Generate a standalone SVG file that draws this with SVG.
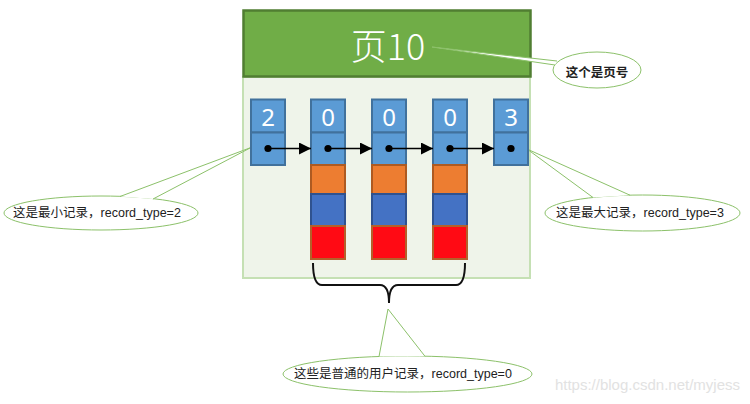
<svg xmlns="http://www.w3.org/2000/svg" width="750" height="404" viewBox="0 0 750 404">
<style>
.cjk{font-family:"Liberation Sans","Noto Sans CJK SC",sans-serif;}
.callout{fill:#ffffff;stroke:#8CC16A;stroke-width:1;}
.ctext{font-size:12.5px;fill:#222;text-anchor:middle;}
.num{font-family:"Noto Sans","Liberation Sans",sans-serif;font-size:24px;fill:#ffffff;text-anchor:middle;}
.c-top{fill:#5B9BD5;stroke:#41719C;stroke-width:2;}
.c-org{fill:#ED7D31;stroke:#AE5A21;stroke-width:2;}
.c-blu{fill:#4472C4;stroke:#2F528F;stroke-width:2;}
.c-red{fill:#FF0A14;stroke:#B4602A;stroke-width:2;}
.dot{fill:#000;}
.arrow{stroke:#000;stroke-width:1.6;fill:none;marker-end:url(#ah);}
</style>
<defs>
<marker id="ah" markerUnits="userSpaceOnUse" markerWidth="13" markerHeight="13" refX="12" refY="6" orient="auto">
<path d="M0,0 L12,6 L0,12 z" fill="#000"/>
</marker>
</defs>
<rect width="750" height="404" fill="#ffffff"/>
<g id="page">
<rect x="243" y="77" width="287" height="201" fill="#EFF4EA" stroke="#C5E0B4" stroke-width="2"/>
<rect x="243.5" y="10.5" width="287" height="66" fill="#70AD47" stroke="#507E32" stroke-width="2.5"/>
<text x="388" y="60" font-family="Noto Sans CJK SC, sans-serif" font-size="36" font-weight="300" fill="#ffffff" text-anchor="middle">页10</text>
</g>
<g id="callouts" class="cjk">
<g id="callout-page-no">
<ellipse class="callout" cx="597" cy="70" rx="44" ry="18"/>
<path class="callout" d="M557,61 L432,47 L555,65"/>
<text class="ctext" x="597" y="77" font-weight="bold">这个是页号</text>
</g>
<g id="callout-min">
<ellipse class="callout" cx="101" cy="213" rx="97" ry="17"/>
<path class="callout" d="M120,196.5 L251,147.5 L153,199"/>
<text class="ctext" x="97" y="217">这是最小记录，record_type=2</text>
</g>
<g id="callout-max">
<ellipse class="callout" cx="642.5" cy="213" rx="97.5" ry="18"/>
<path class="callout" d="M593,197.5 L527,149 L630,195.2"/>
<text class="ctext" x="640" y="217">这是最大记录，record_type=3</text>
</g>
<g id="callout-user">
<ellipse class="callout" cx="407.5" cy="374" rx="124.5" ry="18"/>
<path class="callout" d="M379,356.6 L388,309 L425,356.3"/>
<text class="ctext" x="403" y="378">这些是普通的用户记录，record_type=0</text>
</g>
</g>
<g id="record-infimum">
<rect class="c-top" x="251" y="99.5" width="34" height="33"/>
<rect class="c-top" x="251" y="132.5" width="34" height="32.5"/>
<text class="num" x="268" y="126">2</text>
<circle class="dot" cx="268" cy="148.5" r="3.6"/>
</g>
<g id="record-user-1">
<rect class="c-top" x="311" y="99.5" width="34" height="33"/>
<rect class="c-top" x="311" y="132.5" width="34" height="32.5"/>
<rect class="c-org" x="311" y="165" width="34" height="29"/>
<rect class="c-blu" x="311" y="194" width="34" height="32"/>
<rect class="c-red" x="311" y="226" width="34" height="33"/>
<text class="num" x="328" y="126">0</text>
<circle class="dot" cx="328" cy="148.5" r="3.6"/>
</g>
<g id="record-user-2">
<rect class="c-top" x="372" y="99.5" width="34" height="33"/>
<rect class="c-top" x="372" y="132.5" width="34" height="32.5"/>
<rect class="c-org" x="372" y="165" width="34" height="29"/>
<rect class="c-blu" x="372" y="194" width="34" height="32"/>
<rect class="c-red" x="372" y="226" width="34" height="33"/>
<text class="num" x="389" y="126">0</text>
<circle class="dot" cx="389" cy="148.5" r="3.6"/>
</g>
<g id="record-user-3">
<rect class="c-top" x="433" y="99.5" width="34" height="33"/>
<rect class="c-top" x="433" y="132.5" width="34" height="32.5"/>
<rect class="c-org" x="433" y="165" width="34" height="29"/>
<rect class="c-blu" x="433" y="194" width="34" height="32"/>
<rect class="c-red" x="433" y="226" width="34" height="33"/>
<text class="num" x="450" y="126">0</text>
<circle class="dot" cx="450" cy="148.5" r="3.6"/>
</g>
<g id="record-supremum">
<rect class="c-top" x="494" y="99.5" width="34" height="33"/>
<rect class="c-top" x="494" y="132.5" width="34" height="32.5"/>
<text class="num" x="511" y="126">3</text>
<circle class="dot" cx="511" cy="148.5" r="3.6"/>
</g>
<g id="connectors">
<line class="arrow" x1="268" y1="148.5" x2="311" y2="148.5"/>
<line class="arrow" x1="328" y1="148.5" x2="372" y2="148.5"/>
<line class="arrow" x1="389" y1="148.5" x2="433" y2="148.5"/>
<line class="arrow" x1="450" y1="148.5" x2="494" y2="148.5"/>
<path d="M313,263 Q313,285 322,285 L380,285 Q389,285 389,303 Q389,285 398,285 L456,285 Q465,285 465,263" fill="none" stroke="#111" stroke-width="2"/>
</g>
<text x="740" y="390" font-family="Liberation Sans, sans-serif" font-size="15" fill="#E2E2E2" text-anchor="end">https://blog.csdn.net/myjess</text>
</svg>
